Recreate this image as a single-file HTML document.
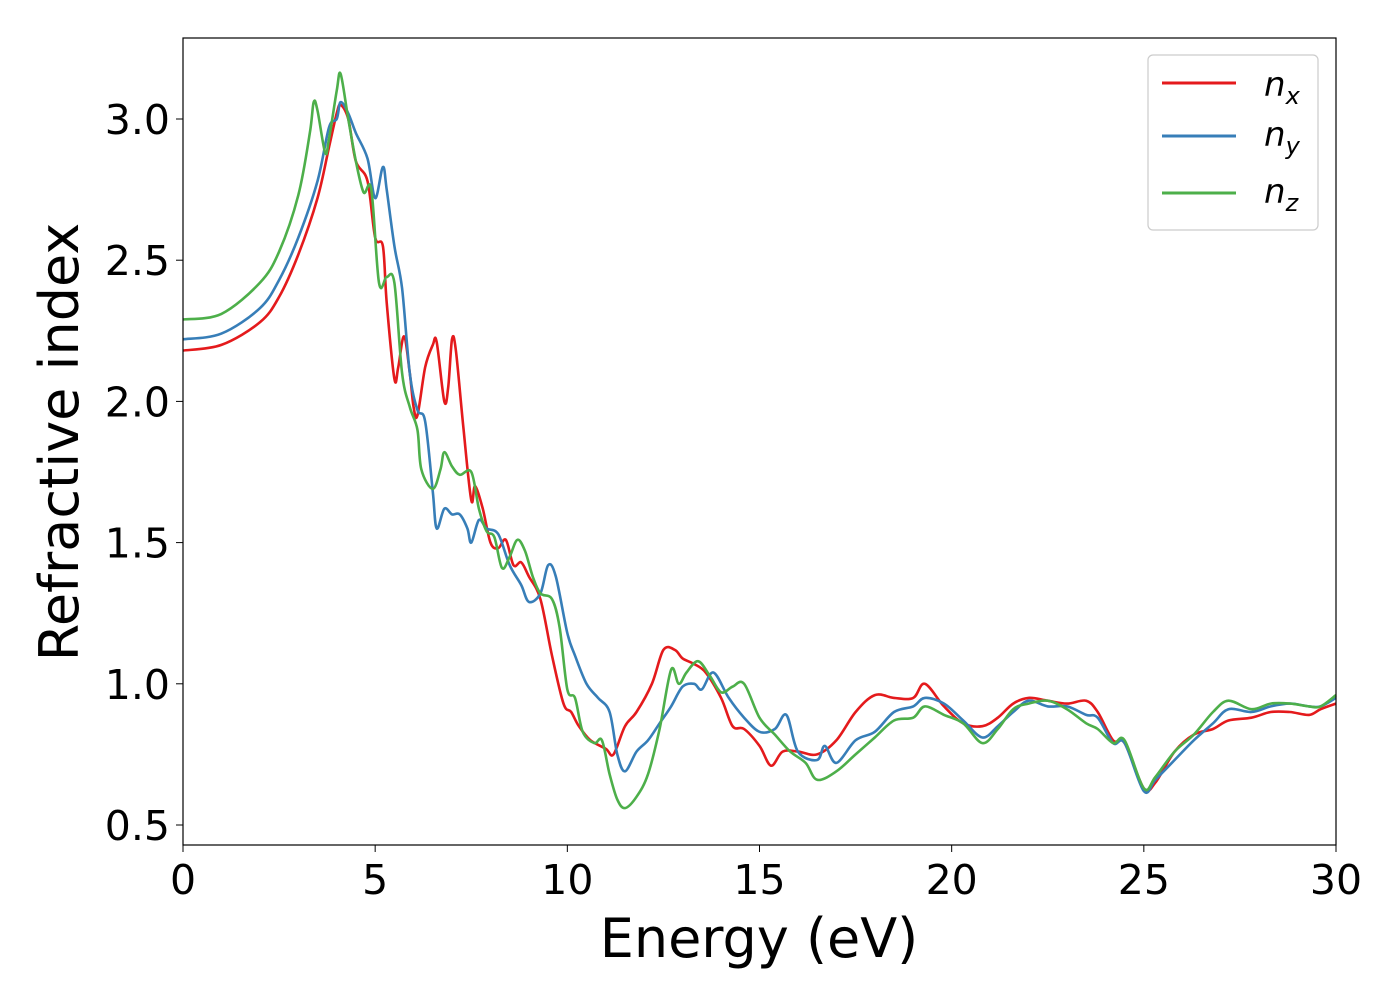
<!DOCTYPE html>
<html><head><meta charset="utf-8"><style>
body{margin:0;background:#fff}
svg text{font-family:"DejaVu Sans","Liberation Sans",sans-serif;fill:#000}
</style></head><body>
<svg width="1400" height="1000" xmlns="http://www.w3.org/2000/svg">
<rect x="0" y="0" width="1400" height="1000" fill="#fff"/>
<g id="series"></g>
<rect x="183" y="38" width="1153" height="807" fill="none" stroke="#000" stroke-width="1.2"/>
<g id="xt"></g>
<g id="yt"></g>
<text x="759" y="957" font-size="54" text-anchor="middle">Energy (eV)</text>
<text transform="translate(78,442) rotate(-90)" font-size="54" text-anchor="middle">Refractive index</text>
<g>
<rect x="1148" y="55" width="170" height="175" rx="5" fill="#fff" stroke="#ccc" stroke-width="1.2"/>
<g><line x1="1162" y1="83" x2="1236" y2="83" stroke="#e41a1c" stroke-width="3"/><text x="1264" y="96" font-size="34" font-style="italic">n<tspan font-size="24" dy="8">x</tspan></text></g>
<g><line x1="1162" y1="136" x2="1236" y2="136" stroke="#377eb8" stroke-width="3"/><text x="1264" y="146" font-size="34" font-style="italic">n<tspan font-size="24" dy="8">y</tspan></text></g>
<g><line x1="1162" y1="193" x2="1236" y2="193" stroke="#4daf4a" stroke-width="3"/><text x="1264" y="203" font-size="34" font-style="italic">n<tspan font-size="24" dy="8">z</tspan></text></g>
</g>
</svg>
<script>
const xTicks=[0,5,10,15,20,25,30];
const yTicks=[0.5,1.0,1.5,2.0,2.5,3.0];
const yTickLabels=["0.5","1.0","1.5","2.0","2.5","3.0"];
const nxE=[0,1,2,2.5,3,3.5,3.8,4.0,4.1,4.3,4.5,4.8,5.0,5.2,5.3,5.5,5.6,5.75,5.9,6.0,6.1,6.3,6.5,6.6,6.8,6.9,7.0,7.1,7.3,7.5,7.6,7.8,8.0,8.2,8.4,8.6,8.8,9.0,9.3,9.6,9.9,10.1,10.3,10.6,11.0,11.2,11.5,11.8,12.2,12.5,12.8,13.0,13.3,13.6,14.0,14.3,14.6,15.0,15.3,15.6,16.0,16.5,17.0,17.5,18.0,18.5,19.0,19.3,19.8,20.3,20.8,21.2,21.6,22.0,22.5,23.0,23.5,23.8,24.2,24.5,25.0,25.3,25.8,26.3,26.8,27.2,27.8,28.3,28.8,29.3,29.6,30];
const nxV=[2.18,2.20,2.28,2.37,2.52,2.72,2.9,3.02,3.05,3.0,2.85,2.78,2.58,2.55,2.35,2.08,2.12,2.23,2.1,1.98,1.95,2.12,2.2,2.21,2.0,2.05,2.22,2.18,1.9,1.65,1.7,1.62,1.5,1.48,1.51,1.42,1.43,1.38,1.3,1.1,0.93,0.9,0.85,0.8,0.77,0.75,0.85,0.9,1.0,1.12,1.12,1.09,1.07,1.04,0.95,0.85,0.84,0.78,0.71,0.76,0.76,0.75,0.8,0.9,0.96,0.95,0.95,1.0,0.92,0.86,0.85,0.88,0.93,0.95,0.94,0.93,0.94,0.9,0.8,0.79,0.63,0.65,0.76,0.82,0.84,0.87,0.88,0.9,0.9,0.89,0.91,0.93];
const nyE=[0,1,2,2.5,3,3.5,3.8,4.0,4.1,4.3,4.5,4.8,5.0,5.2,5.3,5.5,5.7,5.9,6.1,6.3,6.5,6.6,6.8,7.0,7.2,7.4,7.5,7.7,7.9,8.2,8.5,8.8,9.0,9.3,9.5,9.7,10.0,10.2,10.5,10.8,11.1,11.3,11.5,11.8,12.1,12.4,12.7,13.0,13.3,13.5,13.8,14.2,14.6,15.0,15.4,15.7,16.0,16.5,16.7,17.0,17.5,18.0,18.5,19.0,19.3,19.8,20.3,20.8,21.2,21.6,22.0,22.5,23.0,23.5,23.8,24.2,24.5,25.0,25.3,25.8,26.3,26.8,27.2,27.8,28.3,28.8,29.3,29.6,30];
const nyV=[2.22,2.24,2.33,2.43,2.58,2.78,2.97,3.0,3.06,3.02,2.95,2.86,2.72,2.83,2.75,2.55,2.4,2.1,1.97,1.93,1.68,1.55,1.62,1.6,1.6,1.55,1.5,1.58,1.55,1.53,1.42,1.35,1.29,1.32,1.42,1.38,1.18,1.1,1.0,0.95,0.9,0.75,0.69,0.76,0.8,0.86,0.92,0.99,1.0,0.98,1.04,0.95,0.88,0.83,0.84,0.89,0.76,0.73,0.78,0.72,0.8,0.83,0.9,0.92,0.95,0.93,0.87,0.81,0.85,0.9,0.94,0.92,0.92,0.89,0.88,0.79,0.79,0.62,0.66,0.73,0.8,0.86,0.91,0.9,0.92,0.93,0.92,0.92,0.95];
const nzE=[0,1,2,2.5,3,3.3,3.4,3.5,3.7,3.8,4.0,4.1,4.3,4.5,4.7,4.9,5.1,5.3,5.5,5.7,5.9,6.1,6.2,6.5,6.7,6.8,7.0,7.2,7.5,7.7,7.9,8.1,8.3,8.5,8.7,8.9,9.1,9.3,9.6,9.8,10.0,10.2,10.4,10.7,10.9,11.1,11.3,11.5,11.8,12.1,12.4,12.7,12.9,13.1,13.4,13.7,14.0,14.3,14.6,15.0,15.4,15.8,16.2,16.5,17.0,17.5,18.0,18.5,19.0,19.3,19.8,20.3,20.8,21.2,21.6,22.0,22.5,23.0,23.5,23.8,24.2,24.5,25.0,25.3,25.8,26.3,26.8,27.2,27.8,28.3,28.8,29.3,29.6,30];
const nzV=[2.29,2.31,2.42,2.53,2.73,2.95,3.06,3.03,2.88,2.93,3.1,3.16,3.0,2.85,2.74,2.75,2.42,2.44,2.42,2.1,1.98,1.9,1.76,1.69,1.76,1.82,1.77,1.74,1.75,1.62,1.54,1.52,1.41,1.45,1.51,1.47,1.38,1.32,1.3,1.2,0.98,0.95,0.83,0.79,0.8,0.68,0.59,0.56,0.6,0.68,0.84,1.05,1.0,1.04,1.08,1.03,0.97,0.99,1.0,0.88,0.82,0.76,0.72,0.66,0.69,0.75,0.81,0.87,0.88,0.92,0.89,0.86,0.79,0.84,0.91,0.93,0.94,0.91,0.86,0.84,0.79,0.8,0.63,0.67,0.76,0.82,0.9,0.94,0.91,0.93,0.93,0.92,0.92,0.96];
const NS="http://www.w3.org/2000/svg";
const X=e=>183+(e-0)*(1153/30);
const Y=v=>119+(3.0-v)*282.4;
function pathFor(E,V){
  const p=E.map((e,i)=>[X(e),Y(V[i])]);
  let d="M"+p[0][0].toFixed(1)+","+p[0][1].toFixed(1);
  for(let i=0;i<p.length-1;i++){
    const p0=p[Math.max(0,i-1)],p1=p[i],p2=p[i+1],p3=p[Math.min(p.length-1,i+2)];
    const c1=[p1[0]+(p2[0]-p0[0])/6,p1[1]+(p2[1]-p0[1])/6];
    const c2=[p2[0]-(p3[0]-p1[0])/6,p2[1]-(p3[1]-p1[1])/6];
    d+=" C"+c1[0].toFixed(1)+","+c1[1].toFixed(1)+" "+c2[0].toFixed(1)+","+c2[1].toFixed(1)+" "+p2[0].toFixed(1)+","+p2[1].toFixed(1);
  }
  return d;
}
const g=document.getElementById("series");
[[nxE,nxV,"#e41a1c","line-nx"],[nyE,nyV,"#377eb8","line-ny"],[nzE,nzV,"#4daf4a","line-nz"]].forEach(s=>{
  const el=document.createElementNS(NS,"path");
  el.setAttribute("d",pathFor(s[0],s[1]));
  el.setAttribute("fill","none");
  el.setAttribute("stroke",s[2]);
  el.setAttribute("stroke-width","2.6");
  
  
  g.appendChild(el);
});
const xt=document.getElementById("xt");
xTicks.forEach(t=>{
  const l=document.createElementNS(NS,"line");
  l.setAttribute("x1",X(t));l.setAttribute("x2",X(t));l.setAttribute("y1",845);l.setAttribute("y2",852);l.setAttribute("stroke","#000");
  
  
  xt.appendChild(l);
  const tx=document.createElementNS(NS,"text");
  tx.setAttribute("x",X(t));tx.setAttribute("y",894);tx.setAttribute("font-size","41");tx.setAttribute("text-anchor","middle");
  tx.textContent=String(t);
  
  
  xt.appendChild(tx);
});
const yt=document.getElementById("yt");
yTicks.forEach((t,i)=>{
  const l=document.createElementNS(NS,"line");
  l.setAttribute("x1",176);l.setAttribute("x2",183);l.setAttribute("y1",Y(t));l.setAttribute("y2",Y(t));l.setAttribute("stroke","#000");
  
  
  yt.appendChild(l);
  const tx=document.createElementNS(NS,"text");
  tx.setAttribute("x",170);tx.setAttribute("y",Y(t)+15);tx.setAttribute("font-size","41");tx.setAttribute("text-anchor","end");
  tx.textContent=yTickLabels[i];
  
  
  yt.appendChild(tx);
});
</script>
</body></html>
